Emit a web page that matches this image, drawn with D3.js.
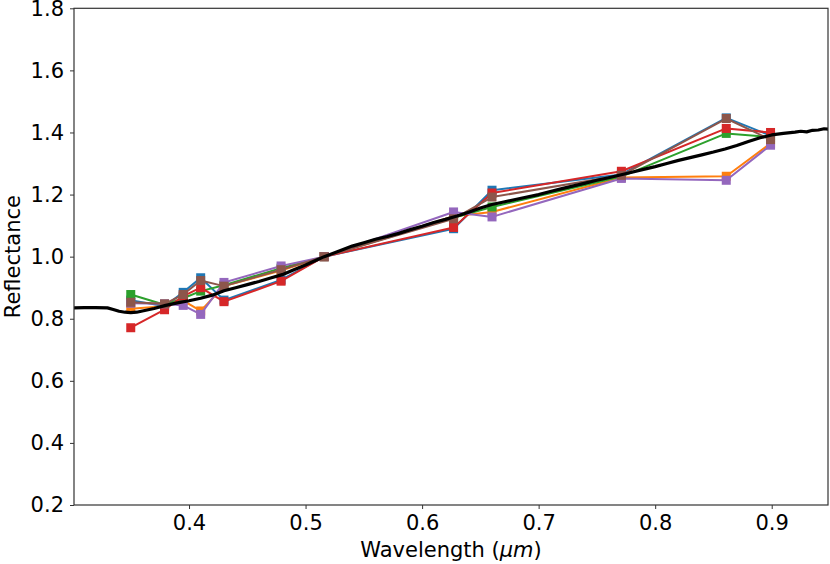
<!DOCTYPE html>
<html>
<head>
<meta charset="utf-8">
<script src="https://cdn.jsdelivr.net/npm/d3@7"></script>
<style>
body { margin: 0; background: #fff; }
text { font-family: "DejaVu Sans", sans-serif; }
</style>
</head>
<body>
<svg id="mainSVG" width="830" height="564"></svg>
<script>
// filter wavelengths (um)
var wavelengths = [0.35, 0.379, 0.395, 0.41, 0.43, 0.479, 0.516, 0.627, 0.66, 0.771, 0.861, 0.899];

// reflectance per series
var seriesBlue   = [0.860, 0.840, 0.885, 0.932, 0.860, 0.925, 1.0, 1.090, 1.214, 1.265, 1.447, 1.390];
var seriesOrange = [0.832, 0.840, 0.858, 0.825, 0.905, 0.955, 1.0, 1.130, 1.144, 1.255, 1.259, 1.365];
var seriesGreen  = [0.878, 0.845, 0.866, 0.889, 0.908, 0.963, 1.0, 1.125, 1.160, 1.258, 1.397, 1.385];
var seriesRed    = [0.771, 0.829, 0.873, 0.900, 0.855, 0.921, 1.0, 1.094, 1.205, 1.275, 1.413, 1.400];
var seriesPurple = [0.850, 0.848, 0.843, 0.814, 0.917, 0.970, 1.0, 1.144, 1.128, 1.252, 1.246, 1.359];
var seriesBrown  = [0.853, 0.848, 0.878, 0.923, 0.905, 0.958, 1.0, 1.122, 1.192, 1.262, 1.445, 1.377];

var seriesColors = ["#1f77b4", "#ff7f0e", "#2ca02c", "#d62728", "#9467bd", "#8c564b"];

// reference spectrum
var specWave = [0.301, 0.31, 0.32, 0.33, 0.335, 0.34, 0.345, 0.35, 0.355, 0.36, 0.37, 0.38, 0.39, 0.40,
  0.41, 0.42, 0.43, 0.44, 0.45, 0.46, 0.47, 0.48, 0.49, 0.50, 0.51, 0.516, 0.53, 0.54, 0.55, 0.56,
  0.57, 0.58, 0.59, 0.60, 0.61, 0.62, 0.63, 0.64, 0.65, 0.66, 0.67, 0.68, 0.69, 0.70, 0.71, 0.72,
  0.73, 0.74, 0.75, 0.76, 0.77, 0.78, 0.79, 0.80, 0.81, 0.82, 0.83, 0.84, 0.85, 0.86, 0.87, 0.88,
  0.89, 0.90, 0.91, 0.92, 0.925, 0.93, 0.935, 0.94, 0.945, 0.95];
var specRefl = [0.835, 0.836, 0.836, 0.835, 0.830, 0.824, 0.821, 0.820, 0.821, 0.825, 0.833, 0.843, 0.851, 0.858,
  0.866, 0.876, 0.890, 0.900, 0.910, 0.920, 0.931, 0.942, 0.958, 0.973, 0.990, 1.000, 1.020, 1.034, 1.045, 1.056,
  1.065, 1.075, 1.087, 1.098, 1.110, 1.120, 1.131, 1.143, 1.157, 1.168, 1.176, 1.184, 1.192, 1.200, 1.210, 1.219,
  1.228, 1.237, 1.246, 1.254, 1.263, 1.272, 1.281, 1.290, 1.300, 1.310, 1.319, 1.328, 1.337, 1.347, 1.358, 1.371,
  1.383, 1.392, 1.397, 1.401, 1.404, 1.402, 1.407, 1.408, 1.412, 1.410];

var xTicks = [0.4, 0.5, 0.6, 0.7, 0.8, 0.9];
var yTicks = [0.2, 0.4, 0.6, 0.8, 1.0, 1.2, 1.4, 1.6, 1.8];

var plotLeft = 74, plotRight = 828, plotTop = 8.3, plotBottom = 505;

var svg = d3.select("#mainSVG");

var x = d3.scaleLinear().domain([0.3013, 0.9483]).range([plotLeft, plotRight]);
var y = d3.scaleLinear().domain([0.2, 1.8]).range([plotBottom, plotTop]);

svg.append("defs").append("clipPath").attr("id", "plotClip")
  .append("rect").attr("x", plotLeft).attr("y", plotTop)
  .attr("width", plotRight - plotLeft).attr("height", plotBottom - plotTop);

var plot = svg.append("g").attr("clip-path", "url(#plotClip)");

var allSeries = [seriesBlue, seriesOrange, seriesGreen, seriesRed, seriesPurple, seriesBrown];

var line = d3.line()
  .x(function(d) { return x(d[0]); })
  .y(function(d) { return y(d[1]); });

allSeries.forEach(function(vals, i) {
  var pts = wavelengths.map(function(w, j) { return [w, vals[j]]; });
  plot.append("path")
    .attr("d", line(pts))
    .attr("fill", "none")
    .attr("stroke", seriesColors[i])
    .attr("stroke-width", 2)
    .attr("stroke-linejoin", "round");
  plot.selectAll(null).data(pts).enter().append("rect")
    .attr("x", function(d) { return x(d[0]) - 4.5; })
    .attr("y", function(d) { return y(d[1]) - 4.5; })
    .attr("width", 9)
    .attr("height", 9)
    .attr("fill", seriesColors[i]);
});

var specPts = specWave.map(function(w, j) { return [w, specRefl[j]]; });
plot.append("path")
  .attr("d", line(specPts))
  .attr("fill", "none")
  .attr("stroke", "#000")
  .attr("stroke-width", 3.2)
  .attr("stroke-linejoin", "round");

// axes
var xAxis = svg.append("g")
  .attr("transform", "translate(0," + plotBottom + ")")
  .call(d3.axisBottom(x).tickValues(xTicks).tickFormat(d3.format(".1f")).tickSize(4).tickPadding(6).tickSizeOuter(0));
var yAxis = svg.append("g")
  .attr("transform", "translate(" + plotLeft + ",0)")
  .call(d3.axisLeft(y).tickValues(yTicks).tickFormat(d3.format(".1f")).tickSize(4).tickPadding(6).tickSizeOuter(0));

[xAxis, yAxis].forEach(function(a) {
  a.select(".domain").remove();
  a.selectAll("line").attr("stroke", "#333").attr("stroke-width", 1);
  a.selectAll("text").attr("font-size", 21).attr("fill", "#000")
    .attr("font-family", "DejaVu Sans, sans-serif");
});

// frame
svg.append("rect")
  .attr("x", plotLeft).attr("y", plotTop)
  .attr("width", plotRight - plotLeft).attr("height", plotBottom - plotTop)
  .attr("fill", "none").attr("stroke", "#333").attr("stroke-width", 1.2);

var xLabel = svg.append("text")
  .attr("x", (plotLeft + plotRight) / 2)
  .attr("y", 557)
  .attr("font-size", 21)
  .attr("text-anchor", "middle");
xLabel.append("tspan").text("Wavelength (");
xLabel.append("tspan").attr("font-style", "italic").text("μm");
xLabel.append("tspan").text(")");

svg.append("text")
  .attr("transform", "translate(20," + ((plotTop + plotBottom) / 2) + ") rotate(-90)")
  .attr("font-size", 21)
  .attr("text-anchor", "middle")
  .text("Reflectance");
</script>
</body>
</html>
